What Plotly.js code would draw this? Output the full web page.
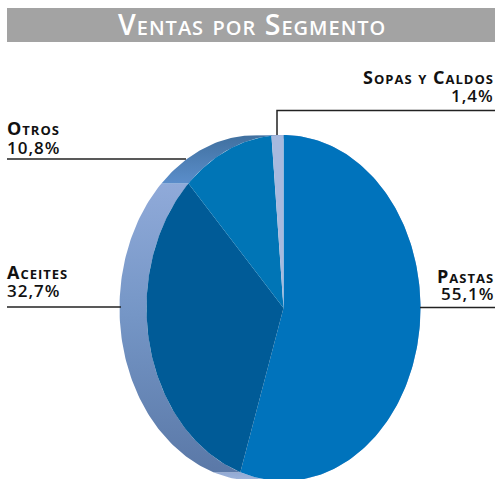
<!DOCTYPE html>
<html><head><meta charset="utf-8">
<script src="https://cdn.plot.ly/plotly-3.0.1.min.js"></script>
<style>html,body{margin:0;padding:0;background:#fff}
.annotation-text{letter-spacing:1px}
.annotation:first-of-type .annotation-text{letter-spacing:3.5px}</style>
</head><body><div id="chart" style="width:495px;height:479px"></div>
<script>
const titleText = "Ventas por Segmento";
const segments = ["Pastas", "Aceites", "Otros", "Sopas y Caldos"];
const shares = [55.1, 32.7, 10.8, 1.4];
const shareLabels = ["55,1%", "32,7%", "10,8%", "1,4%"];
const faceColors = ["#0073bc", "#005b97", "#0075b6", "#a7b9de"];

// geometry of the tilted pie, in page-pixel axis units
const cx = 283.5, cy = 308, rx = 137, ry = 173, depth = 27;
const pt = (a, dx) => [cx - dx + rx * Math.sin(a), cy - ry * Math.cos(a)];
function arc(a0, a1, dx) {
  const n = Math.max(2, Math.ceil(Math.abs(a1 - a0) / 0.02)), out = [];
  for (let i = 0; i <= n; i++) out.push(pt(a0 + (a1 - a0) * i / n, dx));
  return out;
}
let cum = 0;
const spans = shares.map(v => {
  const s = [cum / 100 * 2 * Math.PI, (cum + v) / 100 * 2 * Math.PI];
  cum += v; return s;
});
const sideStyle = [
  {top: 470, bot: 479, scale: [[0, "#8ea6d2"], [1, "#9db3da"]]},
  {top: 183, bot: 474, scale: [[0, "#90aad9"], [0.45, "#7596c6"], [1, "#5a78a7"]]},
  {top: 135, bot: 184, scale: [[0, "#40709f"], [1, "#5b8ecb"]]},
  {top: 135, bot: 140, scale: [[0, "#40709f"], [1, "#40709f"]]}
];
const traces = [];
// side wall: ring between shifted back edge and front edge of each slice
spans.forEach((s, i) => {
  const p = arc(s[0], s[1], depth).concat(arc(s[1], s[0], 0));
  p.push(p[0]);
  traces.push({type: "scatter", mode: "lines", x: p.map(q => q[0]), y: p.map(q => q[1]),
    fill: "toself", line: {width: 0}, hoverinfo: "skip", name: segments[i] + " lado",
    fillgradient: {type: "vertical", start: sideStyle[i].top, stop: sideStyle[i].bot,
      colorscale: sideStyle[i].scale}});
});
// face slices
spans.forEach((s, i) => {
  const p = [[cx, cy]].concat(arc(s[0], s[1], 0)); p.push([cx, cy]);
  traces.push({type: "scatter", mode: "lines", x: p.map(q => q[0]), y: p.map(q => q[1]),
    fill: "toself", fillcolor: faceColors[i], line: {width: 0}, name: segments[i],
    text: shareLabels[i], hoverinfo: "name+text"});
});

const labelPos = [
  {x: 495, y1: 276, y2: 293, anchor: "right"},
  {x: 4, y1: 272, y2: 290.5, anchor: "left"},
  {x: 4, y1: 128, y2: 147, anchor: "left"},
  {x: 495, y1: 76.5, y2: 95, anchor: "right"}
];
const fam = "Open Sans, Lato, sans-serif";
const annotations = [{xref: "x", yref: "y", x: 252, y: 24, text: titleText, showarrow: false,
  xanchor: "center", yanchor: "middle",
  font: {family: fam, size: 28.5, color: "#fff", weight: 600, variant: "small-caps"}}];
segments.forEach((name, i) => {
  const p = labelPos[i];
  annotations.push({x: p.x, y: p.y1, xshift: 1, xref: "x", yref: "y", text: name, showarrow: false,
    xanchor: p.anchor, yanchor: "middle",
    font: {family: fam, size: 18, color: "#111", weight: 700, variant: "small-caps"}});
  annotations.push({x: p.x, y: p.y2, xshift: 1, xref: "x", yref: "y", text: shareLabels[i], showarrow: false,
    xanchor: p.anchor, yanchor: "middle",
    font: {family: fam, size: 17, color: "#111", weight: 600}});
});
const ln = {color: "#222", width: 1.5};
const shapes = [
  {type: "rect", xref: "x", yref: "y", x0: 7, x1: 495, y0: 8, y1: 42, fillcolor: "#a3a3a3", line: {width: 0}, layer: "below"},
  {type: "path", xref: "x", yref: "y", path: "M277,135 L277,110.5 L495,110.5", line: ln},
  {type: "line", xref: "x", yref: "y", x0: 7, x1: 186, y0: 159, y1: 159, line: ln},
  {type: "line", xref: "x", yref: "y", x0: 7, x1: 121, y0: 307, y1: 307, line: ln},
  {type: "line", xref: "x", yref: "y", x0: 420, x1: 495, y0: 307.5, y1: 307.5, line: ln}
];
Plotly.newPlot("chart", traces, {
  width: 495, height: 479, margin: {l: 0, r: 0, t: 0, b: 0},
  paper_bgcolor: "#fff", plot_bgcolor: "#fff", showlegend: false,
  xaxis: {range: [0, 495], visible: false, fixedrange: true},
  yaxis: {range: [479, 0], visible: false, fixedrange: true},
  shapes, annotations
}, {displayModeBar: false});
</script></body></html>
